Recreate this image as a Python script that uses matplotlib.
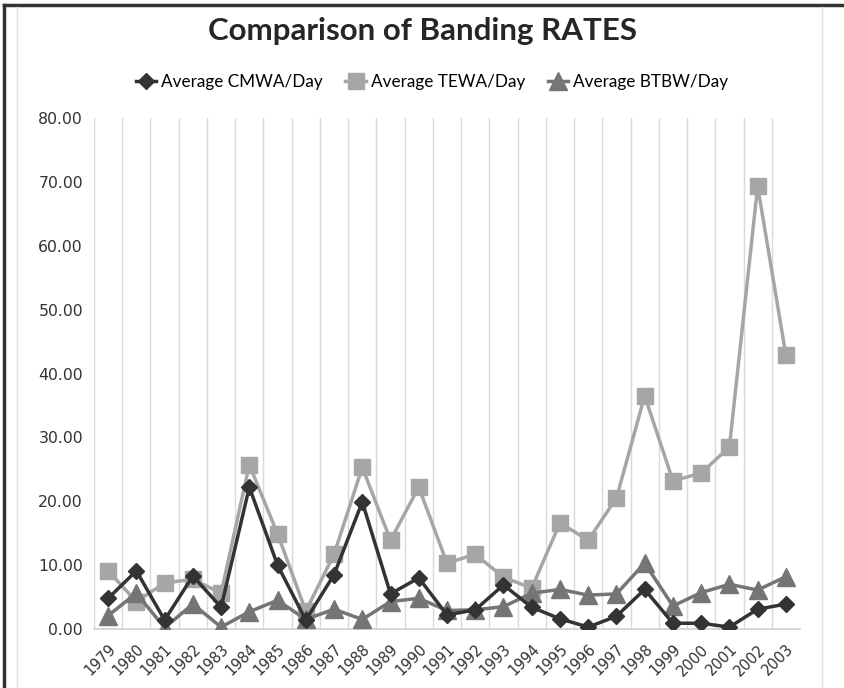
import matplotlib
matplotlib.use("Agg")
import matplotlib.pyplot as plt
from matplotlib.lines import Line2D

# Data ------------------------------------------------------------------------

years = [str(y) for y in range(1979, 2004)]

cmwa = [4.8, 9.1, 1.4, 8.3, 3.4, 22.2, 10.0, 1.4, 8.5, 19.9, 5.5, 8.0, 2.2,
        3.0, 6.9, 3.4, 1.6, 0.3, 2.0, 6.2, 0.9, 0.9, 0.3, 3.1, 3.9]

tewa = [9.1, 4.3, 7.2, 7.8, 5.6, 25.7, 14.9, 2.8, 11.7, 25.3, 13.9, 22.2, 10.3,
        11.7, 8.1, 6.4, 16.6, 13.9, 20.5, 36.5, 23.2, 24.4, 28.5, 69.3, 42.9]

btbw = [2.1, 5.6, 0.2, 3.9, 0.3, 2.7, 4.5, 1.5, 3.1, 1.5, 4.3, 4.8, 2.9,
        3.0, 3.5, 5.6, 6.2, 5.3, 5.5, 10.3, 3.6, 5.7, 7.0, 6.1, 8.2]

y_ticks = [0, 10, 20, 30, 40, 50, 60, 70, 80]

# Figure ----------------------------------------------------------------------

fig = plt.figure(figsize=(8.44, 6.88), dpi=100)
ax = fig.add_axes([94 / 844, 59 / 688, 706 / 844, 511 / 688])

x = list(range(len(years)))

ax.plot(x, tewa, color="#a6a6a6", lw=2.5, marker="s", ms=11.5,
        label="Average TEWA/Day", zorder=3)
ax.plot(x, btbw, color="#757575", lw=2.5, marker="^", ms=12.5,
        label="Average BTBW/Day", zorder=4)
ax.plot(x, cmwa, color="#333333", lw=2.5, marker="D", ms=8.5,
        label="Average CMWA/Day", zorder=5)

ax.set_xlim(-0.5, len(years) - 0.5)
ax.set_ylim(0, 80)

# vertical gridlines between categories
for i in range(len(years)):
    ax.axvline(i - 0.5, color="#d9d9d9", lw=1, zorder=1)

ax.set_yticks(y_ticks)
ax.set_yticklabels(["%.2f" % v for v in y_ticks], fontsize=11.3,
                   color="#333333", family="DejaVu Sans")
ax.set_xticks(x)
ax.set_xticklabels(years, rotation=45, ha="right", rotation_mode="anchor",
                   fontsize=10.5, color="#333333", family="DejaVu Sans")
ax.tick_params(axis="both", length=0)
ax.tick_params(axis="y", pad=8)
ax.tick_params(axis="x", pad=9)

for side in ["top", "right", "left"]:
    ax.spines[side].set_visible(False)
ax.spines["bottom"].set_color("#d0d0d0")
ax.spines["bottom"].set_linewidth(1.2)

# title and legend
fig.text(0.5, 1 - 31 / 688, "Comparison of Banding RATES", ha="center",
         va="center", fontsize=22.5, fontweight="bold", family="Lato",
         color="#262626")

handles = [
    Line2D([], [], color="#333333", lw=2.5, marker="D", ms=8.5),
    Line2D([], [], color="#a6a6a6", lw=2.5, marker="s", ms=11.5),
    Line2D([], [], color="#757575", lw=2.5, marker="^", ms=12.5),
]
labels = ["Average CMWA/Day", "Average TEWA/Day", "Average BTBW/Day"]
fig.legend(handles, labels, loc="center",
           bbox_to_anchor=(0.5 + 10 / 844, 1 - 82 / 688),
           ncol=3, frameon=False, handlelength=1.2, handletextpad=0.3,
           columnspacing=1.3, prop={"family": "Lato", "size": 12.3})

# frame around the chart
fig.add_artist(Line2D([4 / 844, 4 / 844], [0, 1 - 5 / 688],
                      transform=fig.transFigure, color="#333333", lw=2.5))
fig.add_artist(Line2D([4 / 844, 1], [1 - 5 / 688, 1 - 5 / 688],
                      transform=fig.transFigure, color="#333333", lw=2.5))
fig.add_artist(Line2D([17 / 844, 17 / 844], [0, 1 - 7 / 688],
                      transform=fig.transFigure, color="#e3e3e3", lw=1))
fig.add_artist(Line2D([822 / 844, 822 / 844], [0, 1 - 7 / 688],
                      transform=fig.transFigure, color="#e3e3e3", lw=1))

fig.savefig("out.png", dpi=100)
